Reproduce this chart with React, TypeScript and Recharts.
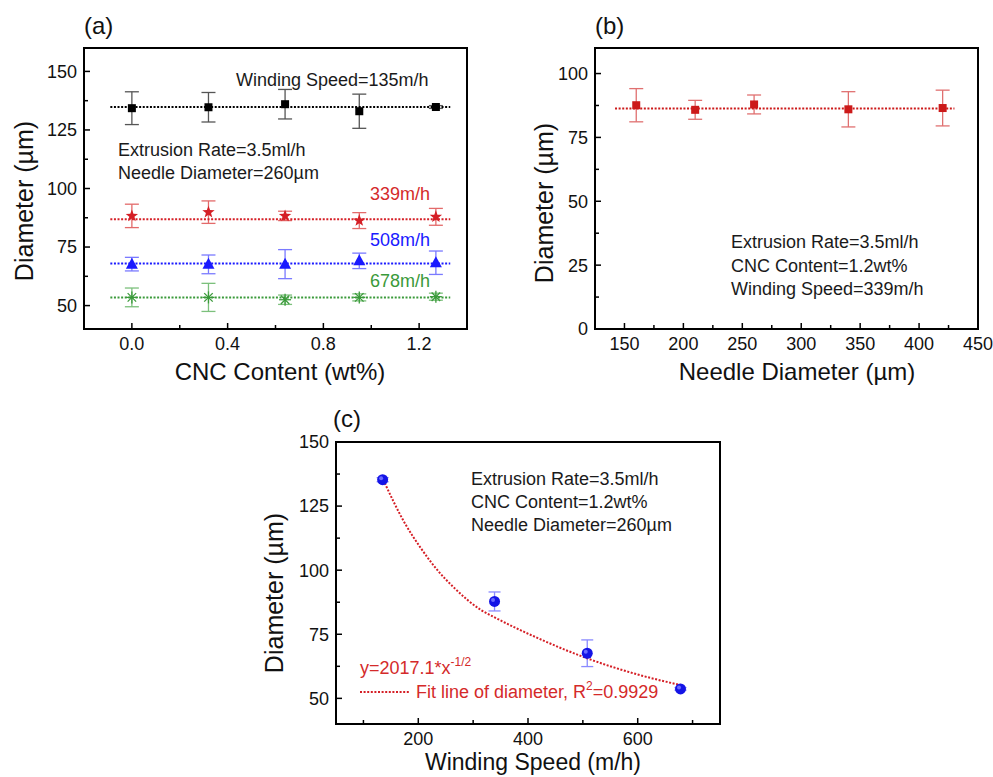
import React from "react";
import {
  ScatterChart,
  Scatter,
  XAxis,
  YAxis,
  ErrorBar,
  ReferenceArea,
} from "recharts";

const FONT = "'Liberation Sans', Arial, Helvetica, sans-serif";

// (a) diameter vs CNC content, one series per winding speed
const cncContent = [0, 0.32, 0.64, 0.95, 1.27];
const diam135 = [134.3, 134.7, 136.0, 133.0, 134.8];
const err135 = [7.0, 6.3, 6.3, 7.3, 0.6];
const diam339 = [88.3, 89.9, 88.3, 86.3, 87.9];
const err339 = [5.0, 4.8, 2.0, 3.4, 3.6];
const diam508 = [67.7, 67.6, 67.7, 69.1, 68.3];
const err508 = [2.9, 4.0, 6.2, 3.3, 5.0];
const diam678 = [53.5, 53.5, 52.5, 53.5, 53.8];
const err678 = [4.0, 6.0, 2.0, 1.5, 1.5];
const fitLevelsA = [134.8, 86.9, 68.0, 53.5];
const fitSpanA = [-0.09, 1.33];
const ticksXA = [0, 0.2, 0.4, 0.6, 0.8, 1.0, 1.2];
const majorXA = [0, 0.4, 0.8, 1.2];
const ticksYA = [50, 62.5, 75, 87.5, 100, 112.5, 125, 137.5, 150];
const majorYA = [50, 75, 100, 125, 150];

// (b) diameter vs needle diameter
const needleDiameter = [160, 210, 260, 340, 420];
const diamB = [87.6, 85.8, 87.9, 86.0, 86.5];
const errB = [6.5, 3.7, 3.7, 6.9, 7.0];
const fitLevelB = 86.3;
const fitSpanB = [142, 430];
const ticksXB = [150, 175, 200, 225, 250, 275, 300, 325, 350, 375, 400, 425, 450];
const majorXB = [150, 200, 250, 300, 350, 400, 450];
const ticksYB = [0, 12.5, 25, 37.5, 50, 62.5, 75, 87.5, 100];
const majorYB = [0, 25, 50, 75, 100];

// (c) diameter vs winding speed + fitted curve
const windingSpeed = [135, 339, 508, 678];
const diamC = [135.3, 87.8, 67.6, 53.7];
const errC = [0.8, 3.7, 5.2, 0.5];
const fitCurveX = [136, 175, 205, 235, 266, 314, 340, 418, 503, 600, 678];
const fitCurveY = [135.3, 118.5, 108.5, 100.0, 93.0, 84.5, 81.5, 73.5, 66.0, 59.3, 55.2];
const ticksXC = [100, 200, 300, 400, 500, 600, 700];
const majorXC = [200, 400, 600];
const ticksYC = [50, 62.5, 75, 87.5, 100, 112.5, 125, 137.5, 150];
const majorYC = [50, 75, 100, 125, 150];

const RED = "#d51f26";
const BLUE = "#1a1aff";
const GREEN = "#3a9a3a";

const YW = 50;
const XH = 40;
const GAP_X = 8;
const GAP_Y = 7;

const rows = (xs: number[], ys: number[], es?: number[]) =>
  xs.map((x, i) => ({ x, y: ys[i], err: es ? es[i] : 0 }));

const flat = (span: number[], level: number) => span.map((x) => ({ x, y: level, err: 0 }));

const isMajor = (majors: number[], v: number) => majors.some((m) => Math.abs(m - v) < 1e-9);

function xTick(majors: number[], fmt: (v: number) => string) {
  return (props: any) => {
    const { x, y, payload } = props;
    const v = payload.value;
    const major = isMajor(majors, v);
    const ay = y - GAP_X;
    return (
      <g>
        <line x1={x} x2={x} y1={ay} y2={ay - (major ? 6 : 4)} stroke="#000" strokeWidth={1.5} />
        {major && (
          <text x={x} y={y} dy="0.71em" textAnchor="middle" fontSize={18} fontFamily={FONT} fill="#111">
            {fmt(v)}
          </text>
        )}
      </g>
    );
  };
}

function yTick(majors: number[]) {
  return (props: any) => {
    const { x, y, payload } = props;
    const v = payload.value;
    const major = isMajor(majors, v);
    const ax = x + GAP_Y;
    return (
      <g>
        <line x1={ax} x2={ax + (major ? 6 : 4)} y1={y} y2={y} stroke="#000" strokeWidth={1.5} />
        {major && (
          <text x={x} y={y} dy="0.355em" textAnchor="end" fontSize={18} fontFamily={FONT} fill="#111">
            {String(v)}
          </text>
        )}
      </g>
    );
  };
}

const squareShape = (color: string, s: number) => (p: any) =>
  <rect x={p.cx - s / 2} y={p.cy - s / 2} width={s} height={s} fill={color} />;

const starShape = (color: string) => (p: any) => {
  const pts: string[] = [];
  for (let i = 0; i < 10; i++) {
    const r = i % 2 === 0 ? 6.5 : 2.7;
    const a = -Math.PI / 2 + (i * Math.PI) / 5;
    pts.push(`${p.cx + r * Math.cos(a)},${p.cy + r * Math.sin(a)}`);
  }
  return <polygon points={pts.join(" ")} fill={color} />;
};

const triangleShape = (color: string) => (p: any) =>
  <polygon
    points={`${p.cx},${p.cy - 6.5} ${p.cx - 6},${p.cy + 4.5} ${p.cx + 6},${p.cy + 4.5}`}
    fill={color}
  />;

const asteriskShape = (color: string) => (p: any) => (
  <g stroke={color} strokeWidth={1.3}>
    {[0, 45, 90, 135].map((d) => {
      const a = (d * Math.PI) / 180;
      const dx = 6 * Math.cos(a);
      const dy = 6 * Math.sin(a);
      return <line key={d} x1={p.cx - dx} y1={p.cy - dy} x2={p.cx + dx} y2={p.cy + dy} />;
    })}
  </g>
);

const ballShape = (p: any) => (
  <g>
    <circle cx={p.cx} cy={p.cy} r={5.5} fill="#1414e6" />
    <circle cx={p.cx - 1.5} cy={p.cy - 1.5} r={2} fill="#6a6aff" />
  </g>
);

const noShape = () => <g />;

function fitLine(key: string, data: any[], color: string, joint: "linear" | "monotone" = "linear") {
  return (
    <Scatter
      key={key}
      data={data}
      shape={noShape}
      line={{ stroke: color, strokeWidth: 2, strokeDasharray: "2 1.6" }}
      lineJointType={joint}
      isAnimationActive={false}
    />
  );
}

function points(key: string, data: any[], shape: any, errColor: string, capWidth = 7) {
  return (
    <Scatter key={key} data={data} shape={shape} isAnimationActive={false}>
      <ErrorBar dataKey="err" direction="y" width={capWidth} stroke={errColor} strokeWidth={1.3} />
    </Scatter>
  );
}

type PanelProps = {
  left: number;
  top: number;
  width: number;
  height: number;
  plot: [number, number, number, number];
  xDomain: [number, number];
  yDomain: [number, number];
  xTicks: number[];
  xMajors: number[];
  yTicks: number[];
  yMajors: number[];
  xFmt: (v: number) => string;
  children: React.ReactNode;
};

function Panel(props: PanelProps) {
  const [pl, pt, pr, pb] = props.plot;
  const margin = {
    left: pl - props.left - YW,
    top: pt - props.top,
    right: props.left + props.width - pr,
    bottom: props.top + props.height - pb - XH,
  };
  return (
    <div style={{ position: "absolute", left: props.left, top: props.top }}>
      <ScatterChart width={props.width} height={props.height} margin={margin}>
        <XAxis
          type="number"
          dataKey="x"
          domain={props.xDomain}
          ticks={props.xTicks}
          interval={0}
          height={XH}
          axisLine={false}
          tickLine={false}
          tickSize={0}
          tickMargin={GAP_X}
          tick={xTick(props.xMajors, props.xFmt)}
          allowDataOverflow
        />
        <YAxis
          type="number"
          dataKey="y"
          domain={props.yDomain}
          ticks={props.yTicks}
          interval={0}
          width={YW}
          axisLine={false}
          tickLine={false}
          tickSize={0}
          tickMargin={GAP_Y}
          tick={yTick(props.yMajors)}
          allowDataOverflow
        />
        {props.children}
        <ReferenceArea
          x1={props.xDomain[0]}
          x2={props.xDomain[1]}
          y1={props.yDomain[0]}
          y2={props.yDomain[1]}
          fill="none"
          fillOpacity={0}
          stroke="#000"
          strokeWidth={2}
        />
      </ScatterChart>
    </div>
  );
}

const txt = { fontFamily: FONT, fontSize: 18, fill: "#1a1a1a" } as const;
const title = { fontFamily: FONT, fontSize: 24, fill: "#111" } as const;

export default function App() {
  const seriesA = [
    { d: diam135, e: err135, shape: squareShape("#000", 8), err: "#555" },
    { d: diam339, e: err339, shape: starShape(RED), err: "#e36a6a" },
    { d: diam508, e: err508, shape: triangleShape(BLUE), err: "#7a7aff" },
    { d: diam678, e: err678, shape: asteriskShape(GREEN), err: "#7cc07c" },
  ];
  const fitColorsA = ["#000", RED, BLUE, GREEN];

  return (
    <div
      style={{
        position: "absolute",
        left: 0,
        top: 0,
        width: 993,
        height: 777,
        background: "#fff",
        overflow: "hidden",
      }}
    >
      <Panel
        left={0}
        top={0}
        width={500}
        height={390}
        plot={[84, 48, 467, 329]}
        xDomain={[-0.2, 1.4]}
        yDomain={[40, 160]}
        xTicks={ticksXA}
        xMajors={majorXA}
        yTicks={ticksYA}
        yMajors={majorYA}
        xFmt={(v) => v.toFixed(1)}
      >
        {fitLevelsA.map((lv, i) => fitLine(`fa${i}`, flat(fitSpanA, lv), fitColorsA[i]))}
        {seriesA.map((s, i) => points(`pa${i}`, rows(cncContent, s.d, s.e), s.shape, s.err))}
      </Panel>

      <Panel
        left={500}
        top={0}
        width={493}
        height={390}
        plot={[595, 48, 978, 329]}
        xDomain={[125, 450]}
        yDomain={[0, 110]}
        xTicks={ticksXB}
        xMajors={majorXB}
        yTicks={ticksYB}
        yMajors={majorYB}
        xFmt={(v) => String(v)}
      >
        {fitLine("fb", flat(fitSpanB, fitLevelB), "#cc1a1a")}
        {points("pb", rows(needleDiameter, diamB, errB), squareShape("#cc1a1a", 8), "#e07070")}
      </Panel>

      <Panel
        left={250}
        top={390}
        width={500}
        height={387}
        plot={[336, 442, 720, 724]}
        xDomain={[50, 750]}
        yDomain={[40, 150]}
        xTicks={ticksXC}
        xMajors={majorXC}
        yTicks={ticksYC}
        yMajors={majorYC}
        xFmt={(v) => String(v)}
      >
        {fitLine("fc", rows(fitCurveX, fitCurveY), RED, "monotone")}
        {points("pc", rows(windingSpeed, diamC, errC), ballShape, "#8a8aff", 6)}
      </Panel>

      <svg
        width={993}
        height={777}
        style={{ position: "absolute", left: 0, top: 0, pointerEvents: "none" }}
      >
        {/* panel (a) */}
        <text x={84} y={34} {...title}>(a)</text>
        <text x={236} y={86} {...txt}>Winding Speed=135m/h</text>
        <text x={118} y={156} {...txt}>Extrusion Rate=3.5ml/h</text>
        <text x={118} y={179} {...txt}>Needle Diameter=260µm</text>
        <text x={430} y={200} textAnchor="end" {...txt} fill="#d42a2a">339m/h</text>
        <text x={430} y={246} textAnchor="end" {...txt} fill={BLUE}>508m/h</text>
        <text x={430} y={287} textAnchor="end" {...txt} fill={GREEN}>678m/h</text>
        <text x={33} y={201} textAnchor="middle" transform="rotate(-90 33 201)" {...title} fontSize={25}>
          Diameter (µm)
        </text>
        <text x={280} y={380} textAnchor="middle" {...title}>CNC Content (wt%)</text>

        {/* panel (b) */}
        <text x={595} y={34} {...title}>(b)</text>
        <text x={731} y={248} {...txt}>Extrusion Rate=3.5ml/h</text>
        <text x={731} y={271.5} {...txt}>CNC Content=1.2wt%</text>
        <text x={731} y={295} {...txt}>Winding Speed=339m/h</text>
        <text x={553} y={203} textAnchor="middle" transform="rotate(-90 553 203)" {...title} fontSize={25}>
          Diameter (µm)
        </text>
        <text x={797} y={380} textAnchor="middle" {...title}>Needle Diameter (µm)</text>

        {/* panel (c) */}
        <text x={333} y={427} {...title}>(c)</text>
        <text x={471} y={484.5} {...txt}>Extrusion Rate=3.5ml/h</text>
        <text x={471} y={508} {...txt}>CNC Content=1.2wt%</text>
        <text x={471} y={531} {...txt}>Needle Diameter=260µm</text>
        <text x={360} y={673.5} {...txt} fill="#d42a2a">
          y=2017.1*x<tspan dy={-8} fontSize={12}>-1/2</tspan>
        </text>
        <line x1={360} x2={410} y1={692} y2={692} stroke={RED} strokeWidth={2} strokeDasharray="2 1.6" />
        <text x={416} y={698} {...txt} fill="#d42a2a">
          Fit line of diameter, R<tspan dy={-8} fontSize={12}>2</tspan>
          <tspan dy={8}>=0.9929</tspan>
        </text>
        <text x={283} y={593} textAnchor="middle" transform="rotate(-90 283 593)" {...title} fontSize={25}>
          Diameter (µm)
        </text>
        <text x={533} y={770} textAnchor="middle" {...title} fontSize={23}>Winding Speed (m/h)</text>
      </svg>
    </div>
  );
}
